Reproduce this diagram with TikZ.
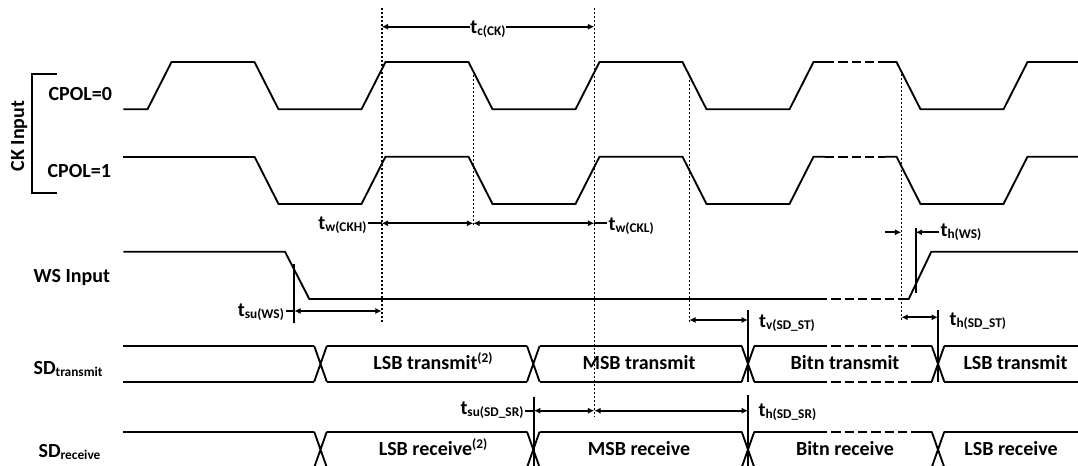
\documentclass[tikz,border=0pt]{standalone}
\usepackage{fontspec}
\setmainfont{Carlito}
\usetikzlibrary{arrows.meta}

\newcommand{\dsub}[1]{\raisebox{-1.5pt}{\fontsize{10}{12}\selectfont #1}}
\newcommand{\dsup}[1]{\raisebox{5.5pt}{\fontsize{10}{12}\selectfont #1}}

\tikzset{
 wave/.style={line width=1.4pt},
 gap/.style={wave, dash pattern=on 7pt off 3pt},
 guide/.style={line width=1.2pt, dash pattern=on 1.5pt off 1.5pt},
 edgeline/.style={line width=1.3pt},
 stub/.style={line width=1.3pt},
 dim/.style={line width=1.3pt, {Latex[length=4.8pt,width=4.6pt]}-{Latex[length=4.8pt,width=4.6pt]}},
 dimto/.style={line width=1.3pt, -{Latex[length=4.8pt,width=4.6pt]}},
 lbl/.style={font=\bfseries\fontsize{15}{18}\selectfont, inner sep=1pt}
}

\begin{document}
\begin{tikzpicture}[x=0.75pt, y=-0.75pt]
\useasboundingbox (0,0) rectangle (1078,466);
\clip (0,0) rectangle (1078,466);

% signal names
\node[lbl, rotate=90, anchor=base] (ck) at (24,136) {CK Input};
\draw[wave] (56.7,74) -- (32.3,74) -- (32.3,192.7) -- (56.7,192.7);
\node[lbl, anchor=base west] (cpol0) at (47,100.7) {CPOL=0};
\node[lbl, anchor=base west] (cpol1) at (46,177.7) {CPOL=1};
\node[lbl, anchor=base west] (ws) at (32,282.7) {WS Input};
\node[lbl, anchor=base west] (sdt) at (32,374.3) {SD\dsub{transmit}};
\node[lbl, anchor=base west] (sdr) at (37,457.7) {SD\dsub{receive}};

% CK Input
\draw[wave] (123.3,109.3) -- (147.5,109.3) -- (171.5,62) -- (254.5,62);
\draw[wave] (123.3,156.7) -- (254.5,156.7);
\foreach \yl/\yh in {109.3/62, 204/156.7}{
 \draw[wave] (254.5,\yh) -- (278.5,\yl) -- (361.5,\yl) -- (385.5,\yh) -- (468.5,\yh) -- (492.5,\yl) -- (575.5,\yl) -- (599.5,\yh) -- (682.5,\yh) -- (706.5,\yl) -- (789.5,\yl) -- (813.5,\yh) -- (825,\yh);
 \draw[gap] (825,\yh) -- (885,\yh);
 \draw[wave] (885,\yh) -- (896.5,\yh) -- (920.5,\yl) -- (1003.5,\yl) -- (1027.5,\yh) -- (1078,\yh);
}

% WS Input
\draw[wave] (123.3,251.7) -- (285,251.7) -- (309.3,299) -- (818,299);
\draw[gap] (818,299) -- (900,299);
\draw[wave] (900,299) -- (908.7,299) -- (931.3,251.7) -- (1078,251.7);

% SD buses
\foreach \yt/\yb in {346/381.7, 431.7/467.4}{
 \draw[wave] (123.3,\yt) -- (314.2,\yt) (123.3,\yb) -- (314.2,\yb);
 \foreach \c in {320.5,533.3,748,938}
  \draw[wave] (\c-6.3,\yt) -- (\c+6.3,\yb) (\c-6.3,\yb) -- (\c+6.3,\yt);
 \foreach \a/\b in {326.8/527, 539.6/741.7, 944.3/1078}
  \draw[wave] (\a,\yt) -- (\b,\yt) (\a,\yb) -- (\b,\yb);
 \draw[wave] (754.3,\yt) -- (818,\yt) (754.3,\yb) -- (818,\yb) (915,\yt) -- (931.7,\yt) (915,\yb) -- (931.7,\yb);
 \draw[gap] (818,\yt) -- (915,\yt) (818,\yb) -- (915,\yb);
}
\node[lbl, anchor=base] (lsbt) at (433,370) {LSB transmit\dsup{(2)}};
\node[lbl, anchor=base] (msbt) at (639,370) {MSB transmit};
\node[lbl, anchor=base] (bitt) at (845,370) {Bitn transmit};
\node[lbl, anchor=base] (lsbt2) at (1015.5,370) {LSB transmit};
\node[lbl, anchor=base] (lsbr) at (433,455.8) {LSB receive\dsup{(2)}};
\node[lbl, anchor=base] (msbr) at (639,455.8) {MSB receive};
\node[lbl, anchor=base] (bitr) at (845,455.8) {Bitn receive};
\node[lbl, anchor=base] (lsbr2) at (1011,455.8) {LSB receive};

% reference lines
\coordinate (m1) at (381.7,0);
\coordinate (m2) at (473.3,0);
\coordinate (m3) at (594.3,0);
\coordinate (m4) at (689.3,0);
\coordinate (m5) at (901.3,0);
\coordinate (e1) at (294.3,0);
\coordinate (e2) at (915.7,0);
\coordinate (e3) at (534,0);
\coordinate (e4) at (748,0);
\coordinate (e5) at (938,0);
\draw[guide] (381.7,8) -- (381.7,321.7);
\draw[guide] (473.3,71) -- (473.3,227);
\draw[guide] (594.3,8) -- (594.3,416.7);
\draw[guide] (689.3,76) -- (689.3,321.7);
\draw[guide] (901.3,74) -- (901.3,321.7);
\draw[edgeline] (294.3,264.3) -- (294.3,322.7);
\draw[edgeline] (915.7,228.3) -- (915.7,293.3);
\draw[edgeline] (534,396.7) -- (534,466);
\draw[edgeline] (748,310) -- (748,381.7) (748,395) -- (748,466);
\draw[edgeline] (938,310) -- (938,381.7);

% timing arrows
\coordinate (yc) at (0,26.7);
\coordinate (yw) at (0,223.3);
\coordinate (yhws) at (0,232.3);
\coordinate (ysu) at (0,311);
\coordinate (yv) at (0,320);
\coordinate (yhst) at (0,317.3);
\coordinate (ysr) at (0,410.7);

\draw[dim] (m1 |- yc) -- (m3 |- yc);
\node[lbl, anchor=base, fill=white, inner sep=0.5pt] (tc) at (488,33.3) {t\dsub{c(CK)}};

\node[lbl, anchor=base east] (twh) at (368,229.5) {t\dsub{w(CKH)}};
\node[lbl, anchor=base west] (twl) at (607,231) {t\dsub{w(CKL)}};
\draw[stub] (twh.east |- yw) -- (m1 |- yw);
\draw[dim] (m1 |- yw) -- (m2 |- yw);
\draw[dim] (m2 |- yw) -- (m3 |- yw);
\draw[stub] (m3 |- yw) -- (twl.west |- yw);

\node[lbl, anchor=base east] (tsuws) at (285.5,316.5) {t\dsub{su(WS)}};
\draw[stub] (tsuws.east |- ysu) -- (e1 |- ysu);
\draw[dim] (e1 |- ysu) -- (m1 |- ysu);

\node[lbl, anchor=base west] (thws) at (939,237) {t\dsub{h(WS)}};
\draw[dimto] (884.7,232.3) -- (m5 |- yhws);
\draw[dimto] (thws.west |- yhws) -- (e2 |- yhws);

\node[lbl, anchor=base west] (tvst) at (757.5,327.5) {t\dsub{v(SD\_ST)}};
\draw[dim] (m4 |- yv) -- (e4 |- yv);
\node[lbl, anchor=base west] (thst) at (948,326) {t\dsub{h(SD\_ST)}};
\draw[dim] (m5 |- yhst) -- (e5 |- yhst);

\node[lbl, anchor=base east] (tsusr) at (525,415) {t\dsub{su(SD\_SR)}};
\node[lbl, anchor=base west] (thsr) at (757,416.5) {t\dsub{h(SD\_SR)}};
\draw[stub] (tsusr.east |- ysr) -- (e3 |- ysr);
\draw[dim] (e3 |- ysr) -- (m3 |- ysr);
\draw[dim] (m3 |- ysr) -- (e4 |- ysr);
\end{tikzpicture}
\end{document}
